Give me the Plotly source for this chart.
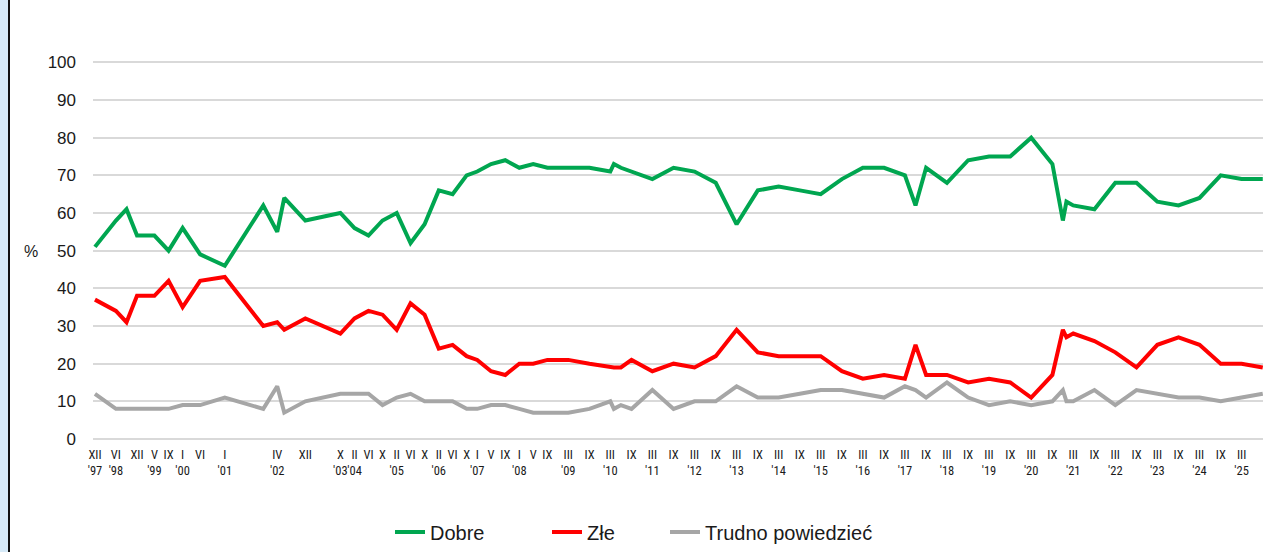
import plotly.graph_objects as go

# ---- data ----
dates = [
    "1997-12-01", "1998-06-01", "1998-09-01", "1998-12-01", "1999-05-01", "1999-09-01",
    "2000-01-01", "2000-06-01", "2001-01-01", "2001-12-01", "2002-04-01", "2002-06-01",
    "2002-12-01", "2003-10-01", "2004-02-01", "2004-06-01", "2004-10-01", "2005-02-01",
    "2005-06-01", "2005-10-01", "2006-02-01", "2006-06-01", "2006-10-01", "2007-01-01",
    "2007-05-01", "2007-09-01", "2008-01-01", "2008-05-01", "2008-09-01", "2009-03-01",
    "2009-09-01", "2010-03-01", "2010-04-01", "2010-06-01", "2010-09-01", "2011-03-01",
    "2011-09-01", "2012-03-01", "2012-09-01", "2013-03-01", "2013-09-01", "2014-03-01",
    "2014-09-01", "2015-03-01", "2015-09-01", "2016-03-01", "2016-09-01", "2017-03-01",
    "2017-06-01", "2017-09-01", "2018-03-01", "2018-09-01", "2019-03-01", "2019-09-01",
    "2020-03-01", "2020-09-01", "2020-12-01", "2021-01-01", "2021-03-01", "2021-09-01",
    "2022-03-01", "2022-09-01", "2023-03-01", "2023-09-01", "2024-03-01", "2024-09-01",
    "2025-03-01", "2025-09-01",
]
dobre = [51, 58, 61, 54, 54, 50, 56, 49, 46, 62, 55, 64,
         58, 60, 56, 54, 58, 60, 52, 57, 66, 65, 70, 71,
         73, 74, 72, 73, 72, 72, 72, 71, 73, 72, 71, 69,
         72, 71, 68, 57, 66, 67, 66, 65, 69, 72, 72, 70,
         62, 72, 68, 74, 75, 75, 80, 73, 58, 63, 62, 61,
         68, 68, 63, 62, 64, 70, 69, 69]
zle = [37, 34, 31, 38, 38, 42, 35, 42, 43, 30, 31, 29,
       32, 28, 32, 34, 33, 29, 36, 33, 24, 25, 22, 21,
       18, 17, 20, 20, 21, 21, 20, 19, 19, 19, 21, 18,
       20, 19, 22, 29, 23, 22, 22, 22, 18, 16, 17, 16,
       25, 17, 17, 15, 16, 15, 11, 17, 29, 27, 28, 26,
       23, 19, 25, 27, 25, 20, 20, 19]
trudno = [12, 8, 8, 8, 8, 8, 9, 9, 11, 8, 14, 7,
          10, 12, 12, 12, 9, 11, 12, 10, 10, 10, 8, 8,
          9, 9, 8, 7, 7, 7, 8, 10, 8, 9, 8, 13,
          8, 10, 10, 14, 11, 11, 12, 13, 13, 12, 11, 14,
          13, 11, 15, 11, 9, 10, 9, 10, 13, 10, 10, 13,
          9, 13, 12, 11, 11, 10, 11, 12]

series_names = ["Dobre", "Złe", "Trudno powiedzieć"]
series_colors = ["#00A650", "#FF0000", "#A6A6A6"]

tick_dates = [
    "1997-12-01", "1998-06-01", "1998-12-01", "1999-05-01", "1999-09-01", "2000-01-01",
    "2000-06-01", "2001-01-01", "2002-04-01", "2002-12-01", "2003-10-01", "2004-02-01",
    "2004-06-01", "2004-10-01", "2005-02-01", "2005-06-01", "2005-10-01", "2006-02-01",
    "2006-06-01", "2006-10-01", "2007-01-01", "2007-05-01", "2007-09-01", "2008-01-01",
    "2008-05-01", "2008-09-01",
]
tick_labels = [
    "XII<br>'97", "VI<br>'98", "XII", "V<br>'99", "IX", "I<br>'00",
    "VI", "I<br>'01", "IV<br>'02", "XII", "X<br>'03", "II<br>'04",
    "VI", "X", "II<br>'05", "VI", "X", "II<br>'06",
    "VI", "X", "I<br>'07", "V", "IX", "I<br>'08",
    "V", "IX",
]
for yr in range(2009, 2026):
    tick_dates += [f"{yr}-03-01", f"{yr}-09-01"]
    tick_labels += [f"III<br>'{yr % 100:02d}", "IX"]

y_ticks = list(range(0, 101, 10))

# ---- layout geometry ----
W, H = 1263, 552
ML, MR, MT, MB = 93, 0, 58, 109
PW, PH = W - ML - MR, H - MT - MB


def px_x(px):
    return (px - ML) / PW


def px_y(py):
    return (H - MB - py) / PH


fig = go.Figure()
legend_ids = ["legend", "legend2", "legend3"]
for name, vals, col, lg in zip(series_names, [dobre, zle, trudno], series_colors, legend_ids):
    fig.add_trace(go.Scatter(
        x=dates, y=vals, name=name, mode="lines",
        line=dict(color=col, width=4),
        legend=lg,
    ))

legend_common = dict(
    orientation="h", yanchor="middle", xanchor="left",
    font=dict(family="Liberation Sans, Arial, sans-serif", size=20, color="#1a1a1a"),
    bgcolor="rgba(0,0,0,0)", borderwidth=0,
)

fig.update_layout(
    width=W, height=H,
    margin=dict(l=ML, r=MR, t=MT, b=MB, autoexpand=False),
    paper_bgcolor="white", plot_bgcolor="white",
    showlegend=True,
    legend=dict(x=px_x(390), y=px_y(532), **legend_common),
    legend2=dict(x=px_x(547), y=px_y(532), **legend_common),
    legend3=dict(x=px_x(665), y=px_y(532), **legend_common),
    xaxis=dict(
        type="date",
        range=["1997-11-14", "2025-09-03"],
        tickmode="array", tickvals=tick_dates, ticktext=tick_labels,
        tickangle=0, automargin=False,
        showgrid=False, zeroline=False, showline=False,
        ticks="", ticklabelstandoff=2,
        tickfont=dict(family="Liberation Sans Narrow, Arial Narrow, Roboto Condensed, sans-serif",
                      size=12.5, color="#1a1a1a"),
    ),
    yaxis=dict(
        range=[-1.06, 101.14], automargin=False,
        tickmode="array", tickvals=y_ticks,
        showgrid=True, gridcolor="#D9D9D9", gridwidth=1.5,
        zeroline=False, showline=False, ticks="",
        ticklabelstandoff=16,
        tickfont=dict(family="Liberation Sans, Arial, sans-serif", size=17, color="#1a1a1a"),
    ),
    annotations=[
        dict(text="%", xref="paper", yref="paper", x=px_x(31), y=px_y(252),
             showarrow=False, xanchor="center", yanchor="middle",
             font=dict(family="Liberation Sans, Arial, sans-serif", size=16, color="#1a1a1a")),
    ],
    shapes=[
        dict(type="rect", xref="paper", yref="paper",
             x0=px_x(0), x1=px_x(8), y0=px_y(H + 5), y1=px_y(-5),
             fillcolor="#D6EAF8", line=dict(width=0), layer="below"),
        dict(type="line", xref="paper", yref="paper",
             x0=px_x(9), x1=px_x(9), y0=px_y(H + 5), y1=px_y(-5),
             line=dict(color="#111111", width=2)),
    ],
)

fig.write_html(
    "out.html",
    config={"displayModeBar": False},
    post_script="document.body.style.margin='0';document.body.style.overflow='hidden';",
)
